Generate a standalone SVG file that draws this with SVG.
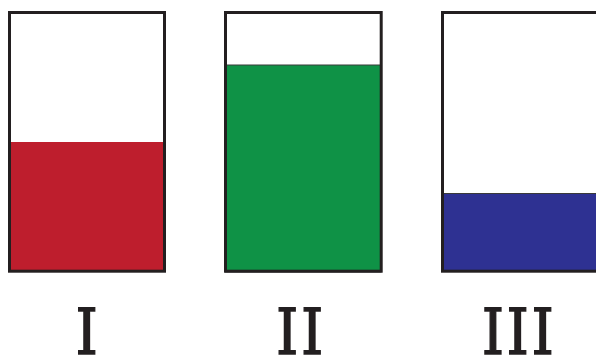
<svg xmlns="http://www.w3.org/2000/svg" width="596" height="357" viewBox="0 0 596 357">
<style>
.box{fill:none;stroke:#231f20;stroke-width:3}
.lvl{stroke:#3a3a3a;stroke-width:1}
.lbl{font-family:"DejaVu Serif",serif;font-size:63px;font-stretch:condensed;fill:#231f20;stroke:#231f20;stroke-width:1.3;text-anchor:middle;letter-spacing:2.5px}
</style>
<rect width="596" height="357" fill="#fff"/>
<g id="beaker-I">
<rect x="9.5" y="142" width="155" height="130" fill="#be1e2d"/>
<rect class="box" x="9.5" y="12.5" width="155" height="258.7"/>
<text class="lbl" x="88" y="354">I</text>
</g>
<g id="beaker-II">
<rect x="225.5" y="65" width="155.5" height="207" fill="#0f9246" class="lvl"/>
<rect class="box" x="225.5" y="12.5" width="155.7" height="258.7"/>
<text class="lbl" x="301" y="354">II</text>
</g>
<g id="beaker-III">
<rect x="442.5" y="193.5" width="160" height="78" fill="#2e3192" class="lvl"/>
<rect class="box" x="442.5" y="12.5" width="156" height="258.7"/>
<text class="lbl" x="519" y="354">III</text>
</g>
</svg>
